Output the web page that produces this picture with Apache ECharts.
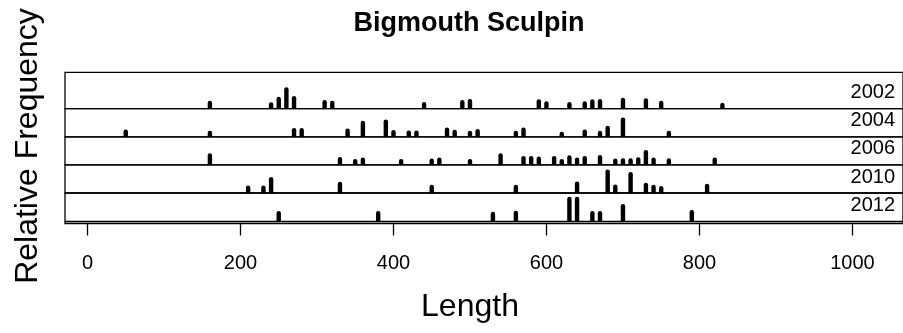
<!DOCTYPE html>
<html>
<head>
<meta charset="utf-8">
<script src="https://cdn.jsdelivr.net/npm/echarts@6/dist/echarts.min.js"></script>
<style>html,body{margin:0;padding:0;background:#fff}#c{width:903px;height:333px}</style>
</head>
<body>
<div id="c"></div>
<script>
// ---- data ----
const years = ['2002', '2004', '2006', '2010', '2012'];
const tickLabels = [0, 200, 400, 600, 800, 1000];

const len2002 = [160, 240, 250, 260, 270, 310, 320, 440, 490, 500, 590, 600, 630, 650, 660, 670, 700, 730, 750, 830];
const freq2002 = [8, 6.4, 12, 21.4, 12.7, 8.7, 8, 6.7, 8.7, 9.7, 9.4, 7.4, 6.7, 7.4, 9.4, 9.7, 11, 10.4, 8, 6];

const len2004 = [50, 160, 270, 280, 340, 360, 390, 400, 420, 430, 470, 480, 500, 510, 560, 570, 620, 650, 670, 680, 700, 760];
const freq2004 = [7.3, 6, 8.7, 8.7, 8.4, 16, 17.4, 6.7, 6.4, 6.4, 9.4, 7, 6, 7.7, 6, 9.4, 5, 7.4, 6, 11, 19.4, 6];

const len2006 = [160, 330, 350, 360, 410, 450, 460, 500, 540, 570, 580, 590, 610, 620, 630, 640, 650, 670, 690, 700, 710, 720, 730, 740, 760, 820];
const freq2006 = [11.7, 8, 6, 7.4, 6, 6.4, 7.4, 6, 11.7, 9, 9, 8.4, 9, 6, 9.7, 7.4, 9, 10, 6.4, 6.7, 6.7, 7.7, 15, 7.4, 6.7, 7.4];

const len2010 = [210, 230, 240, 330, 450, 560, 640, 680, 690, 710, 730, 740, 750, 810];
const freq2010 = [7.6, 7.6, 16, 11.3, 8.3, 8.3, 11.6, 23.6, 8.6, 21, 10.3, 8.3, 7, 9.3];

const len2012 = [250, 380, 530, 560, 630, 640, 660, 670, 700, 790];
const freq2012 = [10, 10, 9.3, 10.3, 24.3, 24.3, 10, 10, 17, 11];

const lengths = [len2002, len2004, len2006, len2010, len2012];
const freqs = [freq2002, freq2004, freq2006, freq2010, freq2012];

// ---- layout ----
const FONT = 'Liberation Sans, Arial, sans-serif';
const X_MIN = -29.43, X_MAX = 1066.1;
const gridLeft = 65, gridWidth = 845;
const panelTops = [72.3, 108.7, 136.8, 164.9, 193.0];
const panelHeights = [36.4, 28.1, 28.1, 28.1, 30.5];
const yMins = [0, 0, 0, 0, -2.4];
const yMaxs = [36.4, 28.1, 28.1, 28.1, 28.1];

const grids = [], xAxes = [], yAxes = [], series = [], graphics = [];
years.forEach((yr, i) => {
  grids.push({
    left: gridLeft, width: gridWidth, top: panelTops[i], height: panelHeights[i],
    show: true, borderColor: '#000', borderWidth: 1.3, backgroundColor: 'transparent'
  });
  const last = i === years.length - 1;
  xAxes.push({
    type: 'value', gridIndex: i, min: X_MIN, max: X_MAX,
    axisLine: { show: false, onZero: false },
    splitLine: { show: false },
    axisTick: last ? { show: true, length: 12, inside: false, customValues: tickLabels, lineStyle: { color: '#000', width: 1.3 } } : { show: false },
    axisLabel: last ? { show: true, customValues: tickLabels, margin: 30, fontSize: 20, color: '#000', fontFamily: FONT, formatter: v => String(v) } : { show: false }
  });
  yAxes.push({ type: 'value', gridIndex: i, min: yMins[i], max: yMaxs[i], show: false });
  const s = {
    type: 'custom', xAxisIndex: i, yAxisIndex: i,
    data: lengths[i].map((v, k) => [v, freqs[i][k]]),
    renderItem: (params, api) => {
      const x = api.value(0), h = api.value(1);
      const p0 = api.coord([x, 0]), p1 = api.coord([x, h]);
      const w = 4.4;
      return {
        type: 'rect',
        shape: { x: p0[0] - w / 2, y: p1[1], width: w, height: p0[1] - p1[1], r: [2.2, 2.2, 0, 0] },
        style: { fill: '#000' }
      };
    },
    animation: false, silent: true
  };
  if (yMins[i] < 0) {
    s.markLine = {
      silent: true, symbol: ['none', 'none'], label: { show: false }, animation: false,
      lineStyle: { color: '#000', type: 'solid', width: 1.3 },
      data: [{ yAxis: 0 }]
    };
  }
  series.push(s);
  graphics.push({
    type: 'text', right: 8, top: panelTops[i] + panelHeights[i] - (yMins[i] < 0 ? 2.4 : 0) - 26,
    style: { text: yr, font: '20px ' + FONT, fill: '#000' }
  });
});

graphics.push({
  type: 'text', x: 469, y: 24,
  style: { text: 'Bigmouth Sculpin', font: 'bold 27px ' + FONT, fill: '#000', align: 'center', verticalAlign: 'middle' }
});
graphics.push({
  type: 'text', x: 470, y: 307,
  style: { text: 'Length', font: '32px ' + FONT, fill: '#000', align: 'center', verticalAlign: 'middle' }
});
graphics.push({
  type: 'text', x: 28, y: 146, rotation: Math.PI / 2,
  style: { text: 'Relative Frequency', font: '32px ' + FONT, fill: '#000', align: 'center', verticalAlign: 'middle' }
});

const chart = echarts.init(document.getElementById('c'), null, { renderer: 'canvas' });
chart.setOption({
  animation: false,
  backgroundColor: '#fff',
  grid: grids, xAxis: xAxes, yAxis: yAxes, series: series, graphic: graphics
});
</script>
</body>
</html>
